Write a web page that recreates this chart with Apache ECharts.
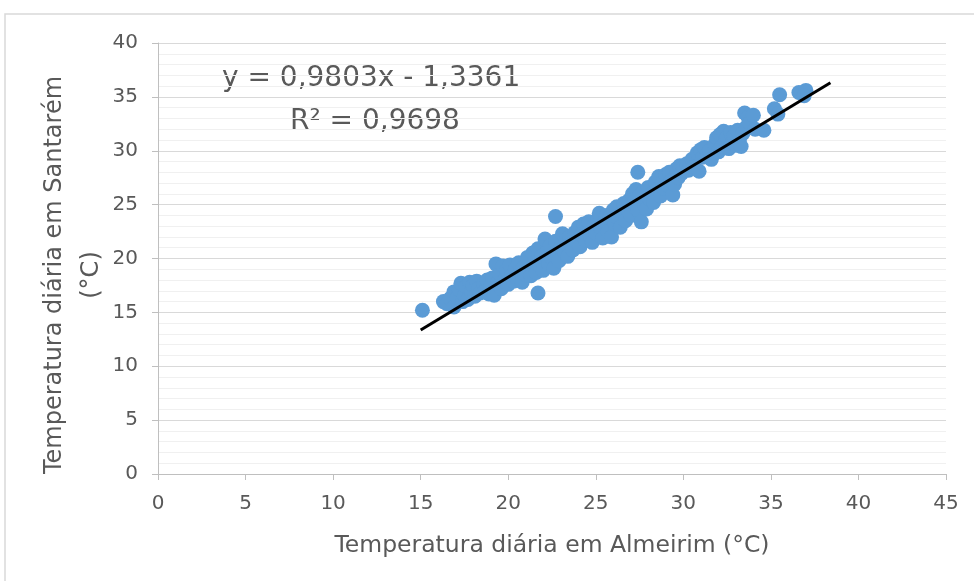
<!DOCTYPE html>
<html>
<head>
<meta charset="utf-8">
<script src="https://cdn.jsdelivr.net/npm/echarts@6/dist/echarts.min.js"></script>
<style>
  html, body { margin: 0; padding: 0; background: #fff; }
  #chart { width: 974px; height: 581px; }
</style>
</head>
<body>
<div id="chart"></div>
<script>
// leituras diárias (Almeirim x, Santarém y)
var almeirim = [
  15.1, 16.3, 16.5, 16.7, 16.9, 16.9, 17.1, 17.2, 17.3, 17.4, 17.5, 17.6, 17.7, 17.8, 17.9, 18.0, 18.1, 18.2, 18.3, 18.4,
  18.6, 18.7, 18.8, 18.9, 19.0, 19.1, 19.2, 19.3, 19.4, 19.5, 19.6, 19.7, 19.8, 19.9, 20.0, 20.1, 20.2, 20.3, 20.4, 20.5,
  20.6, 20.7, 20.8, 20.9, 21.0, 21.1, 21.2, 21.3, 21.4, 21.5, 21.6, 21.7, 21.7, 21.8, 21.9, 22.0, 22.1, 22.2, 22.3, 22.4,
  22.5, 22.6, 22.7, 22.7, 22.8, 22.9, 23.0, 23.1, 23.2, 23.3, 23.4, 23.5, 23.6, 23.7, 23.8, 23.9, 24.0, 24.1, 24.2, 24.3,
  24.4, 24.5, 24.6, 24.7, 24.8, 24.9, 25.0, 25.1, 25.2, 25.3, 25.4, 25.5, 25.6, 25.7, 25.8, 25.9, 26.0, 26.1, 26.2, 26.3,
  26.4, 26.5, 26.6, 26.7, 26.8, 26.9, 27.0, 27.1, 27.2, 27.3, 27.4, 27.4, 27.5, 27.6, 27.7, 27.8, 27.9, 28.0, 28.1, 28.2,
  28.3, 28.4, 28.5, 28.6, 28.7, 28.8, 28.9, 29.0, 29.1, 29.2, 29.3, 29.4, 29.5, 29.6, 29.7, 29.8, 29.9, 30.0, 30.2, 30.3,
  30.5, 30.6, 30.8, 30.9, 31.0, 31.1, 31.2, 31.4, 31.5, 31.6, 31.8, 31.9, 32.0, 32.1, 32.2, 32.3, 32.4, 32.5, 32.6, 32.7,
  32.8, 32.9, 33.0, 33.1, 33.2, 33.3, 33.4, 33.5, 33.6, 33.7, 33.8, 34.0, 34.1, 34.6, 35.2, 35.4, 35.5, 36.6, 37.0, 36.9
];
var santarem = [
  15.2, 16.0, 15.8, 16.3, 15.5, 16.9, 16.4, 17.1, 17.7, 16.0, 16.6, 17.4, 16.2, 17.8, 16.9, 17.5, 16.5, 17.9, 17.2, 16.8,
  17.6, 17.0, 18.0, 16.7, 17.4, 18.2, 16.6, 19.5, 17.8, 18.6, 17.2, 19.3, 18.0, 18.9, 17.6, 19.4, 18.4, 17.9, 19.0, 18.2,
  19.6, 18.8, 17.8, 19.2, 18.5, 20.1, 19.0, 18.4, 20.5, 19.6, 18.7, 16.8, 20.9, 19.3, 20.2, 18.9, 21.8, 20.6, 19.5, 21.2,
  20.0, 19.1, 23.9, 21.6, 20.4, 19.8, 21.0, 22.3, 20.6, 21.7, 20.2, 22.0, 21.3, 20.8, 22.4, 21.6, 22.9, 21.1, 22.2, 23.2,
  21.7, 22.6, 23.4, 22.0, 21.5, 23.0, 22.4, 23.6, 24.2, 22.8, 21.9, 23.3, 24.0, 22.5, 23.8, 22.0, 24.5, 23.2, 24.8, 23.7,
  22.9, 24.2, 25.1, 23.5, 24.6, 25.4, 24.0, 26.0, 25.2, 26.4, 28.0, 24.5, 25.8, 23.4, 26.2, 25.0, 24.6, 26.6, 25.5, 26.0,
  25.2, 27.1, 26.4, 27.6, 25.8, 27.0, 26.5, 27.8, 26.8, 28.0, 27.2, 25.9, 26.9, 28.3, 27.5, 28.6, 27.9, 28.4, 28.8, 28.2,
  29.2, 28.5, 29.8, 28.1, 30.1, 29.4, 30.3, 29.7, 30.0, 29.2, 30.6, 31.2, 29.9, 31.5, 30.4, 31.8, 30.9, 31.3, 30.2, 31.7,
  30.7, 31.4, 30.5, 31.9, 31.0, 30.4, 31.6, 33.5, 32.2, 33.1, 32.6, 33.3, 32.0, 31.9, 33.9, 33.4, 35.2, 35.4, 35.6, 35.1
];

// linha de tendência (Excel): y = 0,9803x - 1,3361
var trendSlope = 0.9803;
var trendIntercept = -1.3361;
var trendRange = [15.0, 38.4];

var xTicks = [0, 45, 5];
var yTicks = [0, 40, 5];

var pontos = almeirim.map(function (x, i) { return [x, santarem[i]]; });
var tendencia = trendRange.map(function (x) { return [x, trendSlope * x + trendIntercept]; });

var textColor = '#595959';
var fontFam = '"DejaVu Sans", sans-serif';

var chart = echarts.init(document.getElementById('chart'));
chart.setOption({
  animation: false,
  backgroundColor: '#fff',
  grid: { left: 158, right: 28, top: 43, bottom: 107 },
  graphic: [
    {
      type: 'rect',
      shape: { x: 5, y: 14, width: 1000, height: 600 },
      style: { fill: 'none', stroke: '#d9d9d9', lineWidth: 1.5 },
      silent: true
    },
    {
      type: 'text',
      x: 222, y: 79,
      style: { text: 'y = 0,9803x - 1,3361', fill: textColor, fontSize: 28, fontFamily: fontFam, verticalAlign: 'middle' }
    },
    {
      type: 'text',
      x: 290, y: 122,
      style: { text: 'R² = 0,9698', fill: textColor, fontSize: 28, fontFamily: fontFam, verticalAlign: 'middle' }
    },
    {
      // título do eixo y (duas linhas, rodado)
      type: 'text',
      x: 73.5, y: 275,
      rotation: Math.PI / 2,
      style: {
        text: 'Temperatura diária em Santarém\n(°C)',
        fill: textColor, fontSize: 24, fontFamily: fontFam,
        lineHeight: 37, align: 'center', verticalAlign: 'middle'
      }
    }
  ],
  xAxis: {
    type: 'value',
    min: xTicks[0], max: xTicks[1], interval: xTicks[2],
    name: 'Temperatura diária em Almeirim (°C)',
    nameLocation: 'middle',
    nameGap: 60,
    nameTextStyle: { color: textColor, fontSize: 23.5, fontFamily: fontFam },
    axisLine: { show: true, onZero: false, lineStyle: { color: '#bfbfbf', width: 1 } },
    axisTick: { show: true, length: 6, lineStyle: { color: '#bfbfbf' } },
    axisLabel: { color: textColor, fontSize: 20, fontFamily: fontFam, margin: 20 },
    splitLine: { show: false }
  },
  yAxis: {
    type: 'value',
    min: yTicks[0], max: yTicks[1], interval: yTicks[2],
    axisLine: { show: true, onZero: false, lineStyle: { color: '#bfbfbf', width: 1 } },
    axisTick: { show: true, length: 6, lineStyle: { color: '#bfbfbf' } },
    axisLabel: { color: textColor, fontSize: 20, fontFamily: fontFam, margin: 20 },
    splitLine: { show: true, lineStyle: { color: '#d9d9d9', width: 1 } },
    minorTick: { show: false, splitNumber: 5 },
    minorSplitLine: { show: true, lineStyle: { color: '#f0f0f0', width: 1 } }
  },
  series: [
    {
      type: 'scatter',
      data: pontos,
      symbolSize: 15,
      itemStyle: { color: '#5B9BD5', opacity: 1 },
      z: 2
    },
    {
      type: 'line',
      data: tendencia,
      symbol: 'none',
      lineStyle: { color: '#000', width: 3 },
      z: 3
    }
  ]
});
</script>
</body>
</html>
